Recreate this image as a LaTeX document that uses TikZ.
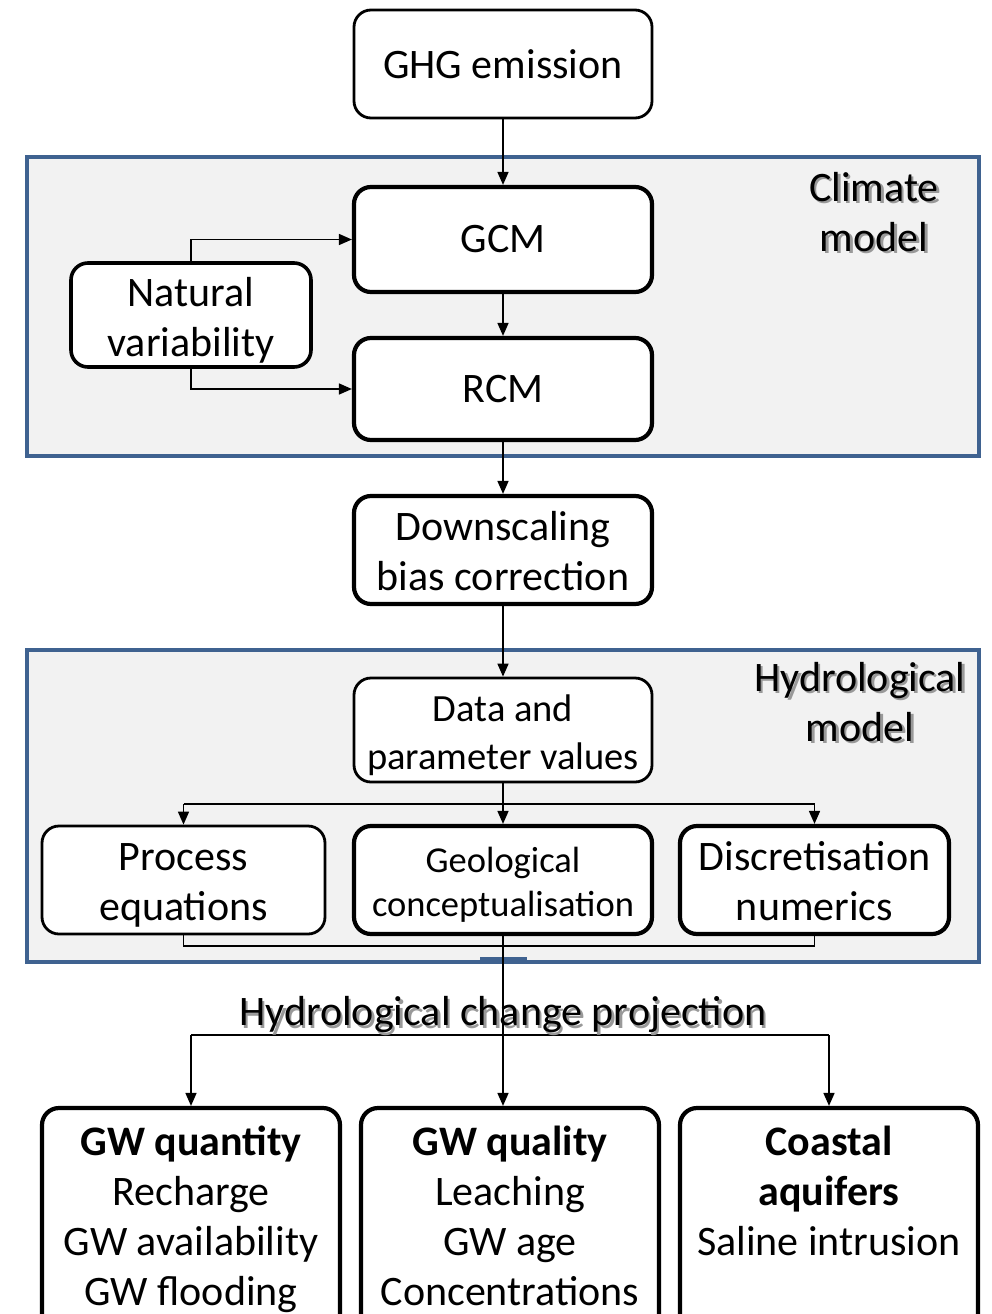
\documentclass[tikz,border=0pt]{standalone}
\usepackage{fontspec}
\setmainfont{Carlito}
\usetikzlibrary{arrows.meta}
\definecolor{panelblue}{HTML}{3F6290}
\definecolor{panelgray}{HTML}{F2F2F2}
\newcommand{\topfix}[1]{\rule{0pt}{#1pt}}
\begin{document}
\begin{tikzpicture}[x=1pt,y=-1pt,
 box/.style={draw, line width=2.8pt, rounded corners=17pt, fill=white, align=center, inner sep=0pt, font=\fontsize{42}{50}\selectfont},
 tbox/.style={box, line width=4.2pt},
 conn/.style={line width=1.6pt, -{Triangle[length=13pt,width=11pt]}},
 plain/.style={line width=1.6pt},
 panel/.style={draw=panelblue, fill=panelgray, line width=3.5pt},
 lab/.style={align=center, font=\fontsize{42}{50}\selectfont},
 shade/.style={lab, text=black!40},
]
\clip (0,0) rectangle (991,1314);
\fill[white] (0,0) rectangle (991,1314);
% panels
\draw[panel] (27,157) rectangle (979,456);
\draw[panel] (27,650) rectangle (979,962);
\fill[panelblue] (480,957) rectangle (527,963);
% panel labels
\node[shade] at (876.5,214.5) {Climate\\model};
\node[lab] (climlab) at (874,212) {Climate\\model};
\node[shade] at (862.5,704.5) {Hydrological\\model};
\node[lab] (hydlab) at (860,702) {Hydrological\\model};
% boxes
\node[box, minimum width=298pt, minimum height=108pt] (ghg) at (503,64) {GHG emission};
\node[tbox, minimum width=298pt, minimum height=105pt] (gcm) at (503,239.5) {GCM};
\node[tbox, minimum width=298pt, minimum height=102pt] (rcm) at (503,389) {RCM};
\node[box, line width=3.6pt, minimum width=240pt, minimum height=104pt] (nat) at (191,315) {\topfix{39}Natural\\variability};
\node[tbox, minimum width=298pt, minimum height=108pt] (down) at (503,550) {\topfix{31}Downscaling\\bias correction};
\node[box, font=\fontsize{38.5}{48}\selectfont, minimum width=298pt, minimum height=104pt] (data) at (503,730) {\topfix{37}Data and\\parameter values};
\node[box, minimum width=283pt, minimum height=108pt] (proc) at (183.5,880) {\topfix{37}Process\\equations};
\node[tbox, font=\fontsize{36.5}{44}\selectfont, minimum width=298pt, minimum height=108pt] (geo) at (503,880) {\topfix{34}Geological\\conceptualisation};
\node[tbox, minimum width=269pt, minimum height=108pt] (disc) at (814.5,880) {\topfix{32}Discretisation\\numerics};
\node[tbox, minimum width=298pt, minimum height=222pt] (quant) at (191,1219) {\textbf{GW quantity}\\Recharge\\GW availability\\GW flooding};
\node[tbox, minimum width=298pt, minimum height=222pt] (qual) at (510,1219) {\textbf{GW quality}\\Leaching\\GW age\\Concentrations\vphantom{g}};
\node[tbox, minimum width=298pt, minimum height=222pt] (coast) at (829,1219) {\textbf{Coastal}\\\textbf{aquifers}\\Saline intrusion\\\mbox{}\vphantom{g}};
% coordinates
\coordinate (br1) at (503,804);
\coordinate (mg) at (503,946);
\coordinate (br2) at (503,1035);
% connectors
\draw[conn] (ghg.south) -- (gcm.north);
\draw[conn] (gcm.south) -- (rcm.north);
\draw[conn] (nat.north) |- (gcm.west);
\draw[conn] (nat.south) |- (rcm.west);
\draw[conn] (rcm.south) -- (down.north);
\draw[conn] (down.south) -- (data.north);
\draw[conn] (data.south) -- (geo.north);
\draw[plain] (proc.north |- br1) -- (disc.north |- br1);
\draw[conn] (proc.north |- br1) -- (proc.north);
\draw[conn] (disc.north |- br1) -- (disc.north);
\draw[plain] (proc.south) |- (mg) -| (disc.south);
\draw[conn] (geo.south) -- (geo.south |- qual.north);
\draw[plain] (quant.north |- br2) -- (coast.north |- br2);
\draw[conn] (quant.north |- br2) -- (quant.north);
\draw[conn] (coast.north |- br2) -- (coast.north);
% projection label
\node[shade] at (505.5,1017.5) {Hydrological change projection};
\node[lab] (proj) at (503,1015) {Hydrological change projection};
\end{tikzpicture}
\end{document}
